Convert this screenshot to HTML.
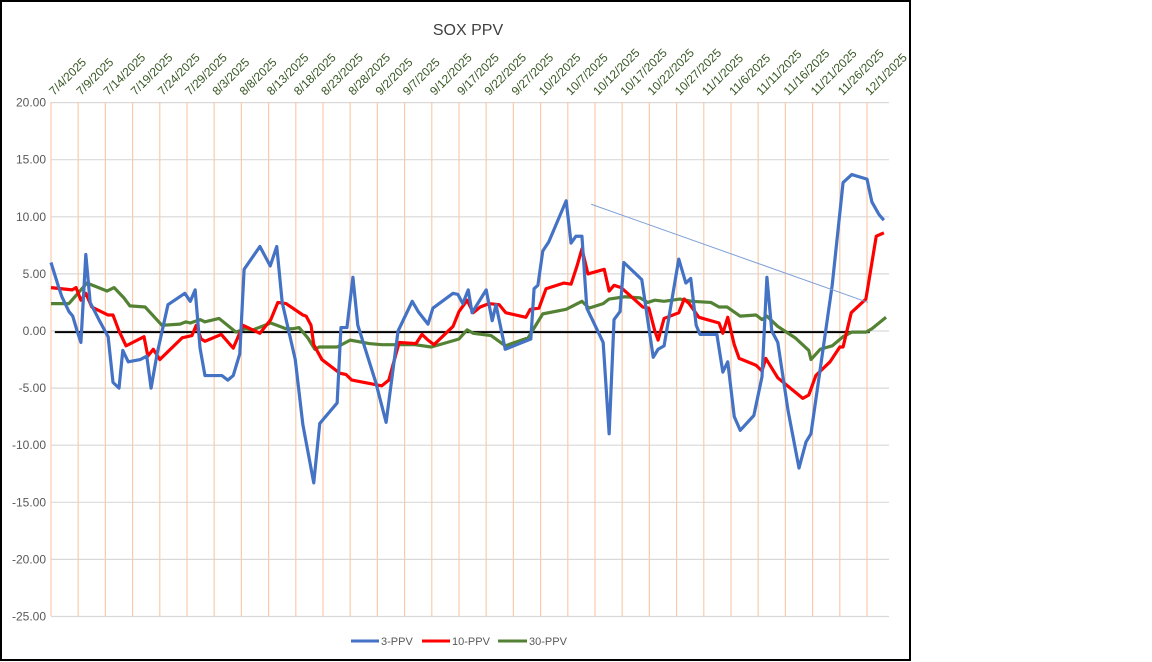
<!DOCTYPE html>
<html><head><meta charset="utf-8"><style>
html,body{margin:0;padding:0;background:#fff;}
svg{display:block;font-family:"Liberation Sans",sans-serif;}
</style></head><body>
<svg id="chart" width="1152" height="662" viewBox="0 0 1152 662" xmlns="http://www.w3.org/2000/svg">
<rect x="1" y="1" width="909" height="659" fill="#fff" stroke="#000" stroke-width="2"/>
<text x="468" y="35" text-anchor="middle" font-size="16" fill="#404040">SOX PPV</text>
<g id="grid"></g><g id="axes"></g><g id="series"></g>
<g>
<line x1="351" y1="641" x2="379" y2="641" stroke="#4472c4" stroke-width="3"/>
<text x="381" y="645" font-size="11" fill="#595959">3-PPV</text>
<line x1="422" y1="641" x2="450" y2="641" stroke="#ff0000" stroke-width="3"/>
<text x="452" y="645" font-size="11" fill="#595959">10-PPV</text>
<line x1="498" y1="641" x2="527" y2="641" stroke="#548235" stroke-width="3"/>
<text x="529" y="645" font-size="11" fill="#595959">30-PPV</text>
</g>
</svg>
<script>
const xTickLabels=["7/4/2025","7/9/2025","7/14/2025","7/19/2025","7/24/2025","7/29/2025","8/3/2025","8/8/2025","8/13/2025","8/18/2025","8/23/2025","8/28/2025","9/2/2025","9/7/2025","9/12/2025","9/17/2025","9/22/2025","9/27/2025","10/2/2025","10/7/2025","10/12/2025","10/17/2025","10/22/2025","10/27/2025","11/1/2025","11/6/2025","11/11/2025","11/16/2025","11/21/2025","11/26/2025","12/1/2025"];
const yTicks=[20,15,10,5,0,-5,-10,-15,-20,-25];
const days3=[0,1.3,2.0,3.3,4.0,4.8,5.5,6.4,7.2,8.8,10.5,11.4,12.5,13.2,14.2,16.4,17.6,18.4,19.5,21.5,24.6,25.6,26.5,27.4,28.3,31.4,32.5,33.5,34.7,35.5,38.4,40.3,41.5,42.5,44.9,46.3,48.3,49.4,52.6,53.3,54.4,55.5,56.4,59.7,61.6,63.8,66.4,67.5,69.3,70.2,73.9,74.8,75.7,76.7,77.4,80.0,81.1,81.8,83.5,88.2,88.8,89.5,90.4,91.5,94.7,95.6,96.5,97.6,98.5,101.5,102.6,103.5,104.6,105.3,108.6,110.7,111.6,112.7,115.4,116.7,117.6,118.6,119.3,122.4,123.5,124.4,125.6,126.7,129.2,130.7,131.6,132.5,133.6,135.5,137.5,138.8,139.7,143.6,145.6,147.2,150.0,150.9,152.2,153.1];
const vals3=[6.0,4.0,3.0,1.7,1.3,0,-1.0,6.7,2.5,1.0,-0.5,-4.5,-5.0,-1.7,-2.7,-2.5,-2.2,-5.0,-2.0,2.3,3.3,2.6,3.6,-1.5,-3.9,-3.9,-4.3,-3.9,-2.0,5.4,7.4,5.7,7.4,2.5,-2.5,-8.2,-13.3,-8.1,-6.3,0.3,0.3,4.7,0.5,-4.5,-8.0,0,2.6,1.7,0.6,2.0,3.3,3.2,2.4,3.6,1.6,3.6,0.9,2.3,-1.6,-0.7,3.7,4.0,7.0,7.8,11.4,7.7,8.3,8.3,2.0,-1.0,-9.0,1.0,1.7,6.0,4.5,-2.3,-1.6,-1.3,6.3,4.2,4.6,0.5,-0.3,-0.3,-3.6,-2.7,-7.5,-8.7,-7.4,-4.0,4.7,0,-1.0,-7.0,-12.0,-9.7,-9.0,4.0,13.0,13.7,13.3,11.3,10.2,9.7];
const days10=[0,3.9,4.6,5.5,6.4,7.5,10.5,11.4,12.5,13.8,17.1,17.8,18.8,20.0,24.1,25.9,26.7,27.6,28.3,31.3,33.5,35.3,38.4,40.4,41.7,43.2,46.3,46.9,47.8,48.3,49.8,53.1,54.2,55.3,60.8,62.1,64.0,67.1,68.2,69.3,70.4,73.9,75.0,76.5,77.6,78.9,80.5,82.4,83.6,87.3,88.1,89.7,91.0,94.3,95.6,96.7,97.6,98.7,101.7,102.6,103.5,104.8,108.8,109.9,111.0,111.6,112.7,115.4,116.4,117.3,119.1,122.8,123.5,124.4,125.6,126.5,129.6,130.7,131.4,133.6,138.2,139.3,140.6,143.2,145.0,145.6,147.1,149.8,151.7,153.1];
const vals10=[3.8,3.6,3.8,2.7,3.3,2.1,1.4,1.4,0,-1.3,-0.5,-2.2,-1.6,-2.5,-0.6,-0.4,0.5,-0.7,-0.9,-0.3,-1.5,0.5,-0.2,1.0,2.5,2.4,1.4,1.3,0.5,-1.2,-2.5,-3.7,-3.8,-4.3,-4.8,-4.3,-1.0,-1.1,-0.3,-0.8,-1.2,0.4,1.7,2.7,1.6,2.1,2.4,2.3,1.6,1.2,1.9,2.0,3.7,4.2,4.1,5.7,7.2,5.0,5.4,3.5,4.0,3.8,2.1,2.0,0,-0.8,1.1,1.6,2.8,2.4,1.2,0.7,-0.2,1.2,-1.2,-2.4,-3.0,-3.5,-2.4,-4.1,-5.9,-5.6,-3.9,-2.7,-1.4,-1.4,1.6,2.8,8.3,8.6];
const days30=[0,3.3,6.6,10.3,11.6,13.4,14.5,17.3,20.4,23.7,24.8,25.6,27.4,28.3,30.9,34.0,35.7,37.1,40.4,41.5,43.2,44.5,45.6,47.2,48.5,49.3,52.6,55.0,58.5,60.8,63.6,66.9,69.9,74.3,75.0,76.5,77.6,80.9,83.5,87.7,90.4,94.7,97.6,98.9,101.5,102.6,105.5,108.3,109.7,111.0,112.7,115.6,117.8,121.3,122.8,124.3,126.7,129.6,130.7,131.6,133.6,136.8,139.3,139.7,141.4,143.6,145.6,147.2,149.8,150.9,153.5];
const vals30=[2.4,2.4,4.2,3.5,3.8,2.9,2.2,2.1,0.5,0.6,0.8,0.7,1.0,0.8,1.1,-0.1,0.2,0.1,0.7,0.5,0.2,0.2,0.3,-0.6,-1.6,-1.4,-1.4,-0.8,-1.1,-1.2,-1.2,-1.2,-1.4,-0.8,-0.7,0.1,-0.2,-0.4,-1.3,-0.6,1.5,1.9,2.6,2.0,2.4,2.8,3.0,2.9,2.5,2.7,2.6,2.8,2.6,2.5,2.1,2.1,1.3,1.4,1.0,1.3,0.4,-0.6,-1.7,-2.5,-1.6,-1.3,-0.5,-0.1,-0.1,0.2,1.2];
const trendDays=[99.3,150.2];
const trendVals=[11.1,2.5];
const zeroDays=[0.7,150.5];
const zeroVals=[-0.1,-0.1];

const NS="http://www.w3.org/2000/svg";
const X0=51,PXD=5.44,Y0=331,PXU=11.42,PL=51,PR=889,PT=102,PB=616;
const xs=d=>X0+d*PXD, ys=v=>Y0-v*PXU;
function mk(tag,attrs,parent){const e=document.createElementNS(NS,tag);for(const k in attrs)e.setAttribute(k,attrs[k]);parent.appendChild(e);return e;}
const grid=document.getElementById('grid'),axes=document.getElementById('axes'),ser=document.getElementById('series');
yTicks.forEach(t=>{
  const l=mk('line',{x1:PL,x2:PR,y1:ys(t),y2:ys(t),stroke:'#d9d9d9','stroke-width':1.2},grid);
  
  
  const tx=mk('text',{x:46,y:ys(t)+4,'text-anchor':'end','font-size':12,fill:'#595959'},axes);
  
  
  tx.textContent=t.toFixed(2);
});
xTickLabels.forEach((s,i)=>{
  const x=xs(i*5);
  const l=mk('line',{x1:x,x2:x,y1:PT,y2:PB,stroke:'#f8cbad','stroke-width':1.2},grid);
  
  
  const tx=mk('text',{x:x+3,y:96,'font-size':12,fill:'#375623',transform:`rotate(-45 ${x+3} 96)`},axes);
  
  
  tx.textContent=s;
});
function line(days,vals,color,w,name){
  const p=mk('polyline',{points:days.map((d,i)=>xs(d)+','+ys(vals[i])).join(' '),fill:'none',stroke:color,'stroke-width':w,'stroke-linejoin':'round'},ser);
  
  
}
line(zeroDays,zeroVals,'#000',2,'zero-line');
line(days30,vals30,'#548235',3.2,'series-30ppv');
line(days10,vals10,'#ff0000',3.2,'series-10ppv');
line(days3,vals3,'#4472c4',3.2,'series-3ppv');
line(trendDays,trendVals,'#7f9fd8',1,'trend-line');
</script>
</body></html>
